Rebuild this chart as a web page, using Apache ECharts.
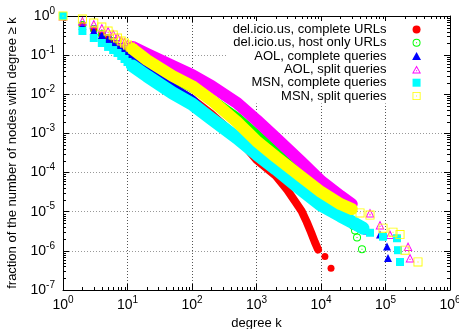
<!DOCTYPE html>
<html>
<head>
<meta charset="utf-8">
<style>
  html, body { margin: 0; padding: 0; background: #fff; }
  #chart { width: 459px; height: 329px; }
</style>
<script src="https://cdn.jsdelivr.net/npm/echarts@6/dist/echarts.min.js"></script>
</head>
<body>
<div id="chart"></div>
<script>
// Cumulative degree distributions: fraction of nodes with degree >= k.
// Every dataset has isolated low-degree points, a dense middle range and a sparse tail.

const seriesNames = [
  'del.icio.us, complete URLs',
  'del.icio.us, host only URLs',
  'AOL, complete queries',
  'AOL, split queries',
  'MSN, complete queries',
  'MSN, split queries'
];

// del.icio.us, complete URLs
const delComplLow = [[1,1],[2,0.589],[3,0.439],[4,0.327],[5,0.258],[6,0.204],[7,0.171],[8,0.1435],[9,0.1276],[10,0.1135],[11,0.1008],[12,0.0896]];
const delComplMid = [[12,0.0896],[20,0.0442],[50,0.01535],[100,0.00758],[200,0.00313],[500,0.000811],[1000,0.00021],[2000,8.2e-5],[3000,3.6e-5],[4000,1.8e-5],[5000,1.04e-5],[6000,5.5e-6],[7000,3.0e-6],[8000,1.7e-6],[9000,1.08e-6]];
const delComplTail = [[11500,7.2e-7],[14300,3.6e-7]];

// del.icio.us, host only URLs
const delHostLow = [[1,1],[2,0.589],[3,0.466],[4,0.347],[5,0.274],[6,0.230],[7,0.193],[8,0.162],[9,0.1435],[10,0.1276],[11,0.1135],[12,0.1008]];
const delHostMid = [[12,0.1008],[20,0.063],[50,0.0261],[100,0.01446],[200,0.00758],[500,0.00263],[1000,0.00097],[2000,0.000356],[5000,0.000103],[10000,4.0e-5],[20000,1.48e-5]];
const delHostTail = [[31400,4.4e-6],[33700,3.3e-6],[36200,2.2e-6],[43200,1.1e-6]];

// AOL, complete queries
const aolComplLow = [[1,1],[2,0.555],[3,0.414],[4,0.327],[5,0.258],[6,0.204],[7,0.171],[8,0.1435],[9,0.1202],[10,0.107],[11,0.0951],[12,0.0845]];
const aolComplMid = [[12,0.0845],[20,0.0417],[50,0.0152],[100,0.0076],[200,0.00248],[500,0.00077],[1000,0.0003],[2000,0.000125],[5000,3.7e-5],[10000,1.6e-5],[20000,8.2e-6],[28200,5.5e-6]];
const aolComplTail = [[51600,3.3e-6],[82200,2.6e-6],[105500,1.3e-6],[109300,6.6e-7]];

// AOL, split queries
const aolSplitLow = [[1,1],[2,0.745],[3,0.6245],[4,0.4935],[5,0.414],[6,0.347],[7,0.2906],[8,0.244],[9,0.217],[10,0.193],[11,0.171],[12,0.162]];
const aolSplitMid = [[12,0.162],[20,0.107],[50,0.0528],[100,0.0311],[200,0.0163],[500,0.00599],[1000,0.0022],[2000,0.000764],[5000,0.000186],[10000,6.1e-5],[20000,2.52e-5],[30000,1.57e-5]];
const aolSplitTail = [[57500,9.3e-6],[82200,4.6e-6],[117400,2.6e-6],[223500,1.3e-6],[239900,6.6e-7]];

// MSN, complete queries
const msnComplLow = [[1,1],[2,0.414],[3,0.274],[4,0.204],[5,0.162],[6,0.135],[7,0.1135],[8,0.0951],[9,0.0797],[10,0.0668],[11,0.0594],[12,0.0528]];
const msnComplMid = [[12,0.0528],[20,0.0293],[50,0.01078],[100,0.00565],[200,0.00234],[500,0.000764],[1000,0.000298],[2000,0.000123],[5000,3.6e-5],[10000,1.48e-5],[20000,7.8e-6],[30000,5.5e-6],[44800,3.8e-6]];
const msnComplTail = [[57500,2.9e-6],[91500,2.3e-6],[150700,2.1e-6],[156300,1.04e-6],[167900,5.2e-7]];

// MSN, split queries
const msnSplitLow = [[1,1],[2,0.838],[3,0.662],[4,0.524],[5,0.414],[6,0.327],[7,0.274],[8,0.230],[9,0.204],[10,0.1816],[11,0.162],[12,0.1435]];
const msnSplitMid = [[12,0.1435],[20,0.0751],[50,0.0293],[100,0.0163],[200,0.00714],[500,0.00196],[1000,0.00064],[2000,0.00025],[5000,7.7e-5],[10000,3.2e-5],[20000,1.57e-5],[30000,1.17e-5]];
const msnSplitTail = [[40300,9.3e-6],[57500,8.2e-6],[91500,3.8e-6],[130700,3.0e-6],[167900,2.6e-6],[200500,1.04e-6],[318900,5.2e-7]];

// Minor tick multipliers inside each decade
const minorSteps = [2, 3, 4, 5, 6, 7, 8, 9];
const xDecades = [1, 10, 100, 1000, 10000, 100000];
const yDecades = [1e-7, 1e-6, 1e-5, 1e-4, 1e-3, 1e-2, 1e-1];

// Marker shapes (open shapes carry a centre dot)
const DOT = 'path://M0,5A5,5,0,1,1,10,5A5,5,0,1,1,0,5Z';
const RING = 'path://M0,5A5,5,0,1,1,10,5A5,5,0,1,1,0,5Z M1.2,5A3.8,3.8,0,1,0,8.8,5A3.8,3.8,0,1,0,1.2,5Z M4.4,4.4H5.6V5.6H4.4Z';
const TRI = 'path://M5,0L10,9L0,9Z';
const TRI_OPEN = 'path://M5,0L10,9L0,9Z M5,2.3L1.7,8L8.3,8Z M4.4,5.4H5.6V6.6H4.4Z';
const SQ = 'path://M0,0H10V10H0Z';
const SQ_OPEN = 'path://M0,0H10V10H0Z M1,1V9H9V1Z M4.4,4.4H5.6V5.6H4.4Z';

const FONT = '"Liberation Sans", Arial, Helvetica, sans-serif';

const sets = [
  { low: delComplLow, mid: delComplMid, tail: delComplTail, color: '#ff0000', symbol: DOT, size: 7, width: 8 },
  { low: delHostLow, mid: delHostMid, tail: delHostTail, color: '#00ff00', symbol: RING, size: 8, width: 9 },
  { low: aolComplLow, mid: aolComplMid, tail: aolComplTail, color: '#0000ff', symbol: TRI, size: 8, width: 8 },
  { low: aolSplitLow, mid: aolSplitMid, tail: aolSplitTail, color: '#ff00ff', symbol: TRI_OPEN, size: 9, width: 12 },
  { low: msnComplLow, mid: msnComplMid, tail: msnComplTail, color: '#00ffff', symbol: SQ, size: 8, width: 13 },
  { low: msnSplitLow, mid: msnSplitMid, tail: msnSplitTail, color: '#ffff00', symbol: SQ_OPEN, size: 9, width: 12 }
];

function powLabel(v) {
  const e = Math.round(Math.log10(v));
  return '{b|10}{s|' + e + '}';
}
const powRich = {
  b: { fontSize: 14, fontFamily: FONT, color: '#000' },
  s: { fontSize: 10, fontFamily: FONT, color: '#000', padding: [0, 0, 10, 0] }
};

const xMinor = [];
xDecades.forEach(function (d) { minorSteps.forEach(function (m) { xMinor.push([m * d, 1]); }); });
const yMinor = [];
yDecades.forEach(function (d) { minorSteps.forEach(function (m) { yMinor.push([1, m * d]); }); });

const TICK = 3;
function tickLine(x1, y1, x2, y2) {
  return { type: 'line', shape: { x1: x1, y1: y1, x2: x2, y2: y2 }, style: { stroke: '#000', lineWidth: 1 } };
}
function renderXMinor(params, api) {
  const p = api.coord([api.value(0), api.value(1)]);
  const cs = params.coordSys;
  const x = Math.round(p[0]) + 0.5;
  return { type: 'group', children: [
    tickLine(x, cs.y + cs.height, x, cs.y + cs.height - TICK),
    tickLine(x, cs.y, x, cs.y + TICK)
  ] };
}
function renderYMinor(params, api) {
  const p = api.coord([api.value(0), api.value(1)]);
  const cs = params.coordSys;
  const y = Math.round(p[1]) + 0.5;
  return { type: 'group', children: [
    tickLine(cs.x, y, cs.x + TICK, y),
    tickLine(cs.x + cs.width, y, cs.x + cs.width - TICK, y)
  ] };
}

const series = [];
sets.forEach(function (s, i) {
  // dense range: consecutive markers merge into a solid band
  series.push({
    type: 'line',
    id: 'mid' + i,
    data: s.mid,
    showSymbol: false,
    symbol: 'none',
    lineStyle: { color: s.color, width: s.width, join: 'round', cap: 'round' },
    z: 3 + i,
    silent: true,
    animation: false
  });
  series.push({
    type: 'scatter',
    name: seriesNames[i],
    data: s.low.concat(s.tail),
    symbol: s.symbol,
    symbolSize: s.size,
    itemStyle: { color: s.color, opacity: 1 },
    z: 3 + i,
    silent: true,
    animation: false
  });
});
series.push({ type: 'custom', id: 'xMinorTicks', data: xMinor, renderItem: renderXMinor, clip: false, silent: true, z: 1, animation: false });
series.push({ type: 'custom', id: 'yMinorTicks', data: yMinor, renderItem: renderYMinor, clip: false, silent: true, z: 1, animation: false });

const axisCommon = {
  type: 'log',
  logBase: 10,
  axisLine: { show: true, lineStyle: { color: '#000', width: 1 } },
  axisTick: { show: true, inside: true, length: 6, lineStyle: { color: '#000', width: 1 } },
  minorTick: { show: false }
};

const chart = echarts.init(document.getElementById('chart'), null, { renderer: 'canvas' });
chart.setOption({
  animation: false,
  backgroundColor: '#fff',
  textStyle: { fontFamily: FONT },
  grid: { left: 63, top: 16, right: 9, bottom: 39, containLabel: false, outerBoundsMode: 'none' },
  legend: {
    data: seriesNames.map(function (n, i) { return { name: n, icon: sets[i].symbol }; }),
    orient: 'vertical',
    align: 'right',
    right: 16,
    top: 21,
    itemWidth: 50,
    itemHeight: 8,
    itemGap: 0.3,
    padding: [2, 22, 1, 5],
    backgroundColor: '#fff',
    selectedMode: false,
    textStyle: { fontSize: 13, lineHeight: 13, color: '#000', fontFamily: FONT },
    // above the grid lines, beneath the data
    z: 2
  },
  xAxis: [
    Object.assign({}, axisCommon, {
      min: 1, max: 1e6, splitNumber: 6, position: 'bottom',
      name: 'degree k', nameLocation: 'middle', nameGap: 22,
      nameTextStyle: { fontSize: 13, color: '#000', fontFamily: FONT },
      axisLabel: { formatter: powLabel, margin: 5, rich: powRich },
      splitLine: { show: true, lineStyle: { color: '#555', width: 1, type: [1, 2] } }
    }),
    Object.assign({}, axisCommon, {
      min: 1, max: 1e6, splitNumber: 6, position: 'top',
      axisLabel: { show: false }, splitLine: { show: false }
    })
  ],
  yAxis: [
    Object.assign({}, axisCommon, {
      min: 1e-7, max: 1, splitNumber: 7, position: 'left',
      name: 'fraction of the number of nodes with degree \u2265 k',
      nameLocation: 'middle', nameGap: 44, nameRotate: 90,
      nameTextStyle: { fontSize: 13, color: '#000', fontFamily: FONT },
      axisLabel: { formatter: powLabel, margin: 8, rich: powRich },
      splitLine: { show: true, lineStyle: { color: '#999', width: 1, type: [1, 2] } }
    }),
    Object.assign({}, axisCommon, {
      min: 1e-7, max: 1, splitNumber: 7, position: 'right',
      axisLabel: { show: false }, splitLine: { show: false }
    })
  ],
  series: series
});
</script>
</body>
</html>
